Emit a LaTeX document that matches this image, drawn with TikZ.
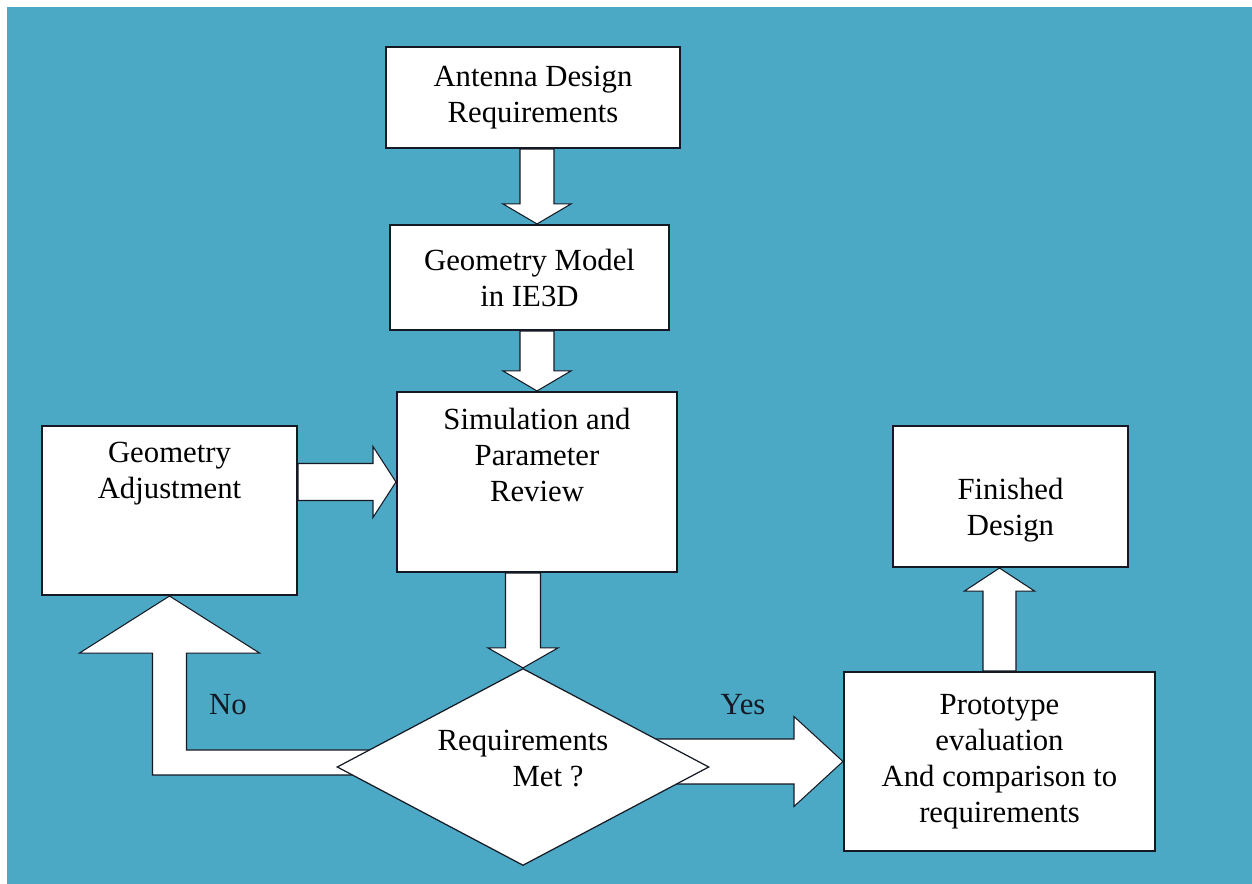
\documentclass[tikz,border=0pt]{standalone}
\usepackage{fontspec}
\setmainfont{Liberation Serif}
\usetikzlibrary{calc,shapes.geometric}
\definecolor{skyblue}{RGB}{75,169,197}
\definecolor{edgedark}{RGB}{20,25,35}
\pgfdeclarelayer{back}
\pgfdeclarelayer{mid}
\pgfsetlayers{back,mid,main}
\tikzset{
  box/.style={
    draw=edgedark,
    line width=1.2pt,
    fill=white,
    align=center,
    inner sep=4pt
  },
  decision/.style={
    diamond,
    draw=edgedark,
    line width=0.7pt,
    fill=white,
    align=center,
    inner sep=0pt,
    minimum width=7.44cm,
    minimum height=3.94cm
  },
  blockarrow/.style={draw=edgedark, line width=0.6pt, fill=white, line join=miter},
  flowlabel/.style={text=edgedark},
  toptext/.style={anchor=north, align=center, yshift=-0.22cm}
}
% wide arrow: from, tip, half shaft, half head, head length
\newcommand{\fatarrow}[5]{%
  \coordinate (ba-a) at (#1);
  \coordinate (ba-b) at (#2);
  \coordinate (ba-h) at ($(ba-b)!#5!(ba-a)$);
  \draw[blockarrow] ($(ba-a)!#3!90:(ba-b)$) -- ($(ba-h)!#3!90:(ba-b)$) -- ($(ba-h)!#4!90:(ba-b)$)
    -- (ba-b) -- ($(ba-h)!#4!-90:(ba-b)$) -- ($(ba-h)!#3!-90:(ba-b)$) -- ($(ba-a)!#3!-90:(ba-b)$) -- cycle;
}

\begin{document}
\begin{tikzpicture}[x=0.02cm, y=-0.02cm, every node/.style={font=\fontsize{17.5}{20.5}\selectfont}]
  \useasboundingbox (0,0) rectangle (1252,884);
  \begin{pgfonlayer}{back}
    \fill[white] (0,0) rectangle (1252,884);
    \fill[skyblue] (7,7) rectangle (1252,884);
  \end{pgfonlayer}

  % steps
  \node[box, minimum width=5.88cm, minimum height=2.02cm] (antenna) at (533,97.5) {Antenna Design\\Requirements};
  \node[box, minimum width=5.58cm, minimum height=2.1cm] (model) at (529.5,277.5) {Geometry Model\\in IE3D};
  \node[box, minimum width=5.6cm, minimum height=3.6cm,
    label={[toptext]north:{Simulation and\\Parameter\\Review}}] (simulate) at (537,482) {};
  \node[box, minimum width=5.1cm, minimum height=3.38cm,
    label={[toptext]north:{Geometry\\Adjustment}}] (adjust) at (169.5,510.5) {};
  \node[box, minimum width=4.7cm, minimum height=2.82cm,
    label={[toptext, yshift=-0.72cm]north:{Finished\\Design}}] (finished) at (1010.5,496.5) {};
  \node[box, minimum width=6.22cm, minimum height=3.58cm] (proto) at (999.5,761.5) {Prototype\\evaluation\\And comparison to\\requirements};
  \node[decision, label={[align=center, yshift=0.17cm]center:{Requirements\\\hspace*{1cm}Met ?}}] (check) at (523,767) {};

  \node[flowlabel] (nolabel) at (228,705) {No};
  \node[flowlabel] (yeslabel) at (743,705) {Yes};

  % wide arrows
  \begin{pgfonlayer}{mid}
    \fatarrow{antenna.south -| simulate.north}{model.north -| simulate.north}{0.34cm}{0.68cm}{0.4cm}
    \fatarrow{model.south -| simulate.north}{simulate.north}{0.34cm}{0.68cm}{0.4cm}
    \fatarrow{check.north |- simulate.south}{check.north}{0.35cm}{0.7cm}{0.4cm}
    \fatarrow{adjust.east |- simulate.west}{simulate.west}{0.37cm}{0.71cm}{0.46cm}
    \fatarrow{check.center |- proto.west}{proto.west}{0.45cm}{0.9cm}{0.98cm}
    \fatarrow{proto.north}{proto.north |- finished.south}{0.33cm}{0.7cm}{0.46cm}
    \coordinate (bend) at (adjust.south |- check.west);
    \draw[blockarrow] ($(check.west)+(40,-17)$) -- ($(bend)+(17,-17)$) -- ($(adjust.south)+(17,57)$)
      -- ($(adjust.south)+(90,57)$) -- (adjust.south) -- ($(adjust.south)+(-90,57)$)
      -- ($(adjust.south)+(-17,57)$) -- ($(bend)+(-17,8)$) -- ($(check.west)+(40,8)$) -- cycle;
  \end{pgfonlayer}
\end{tikzpicture}
\end{document}
